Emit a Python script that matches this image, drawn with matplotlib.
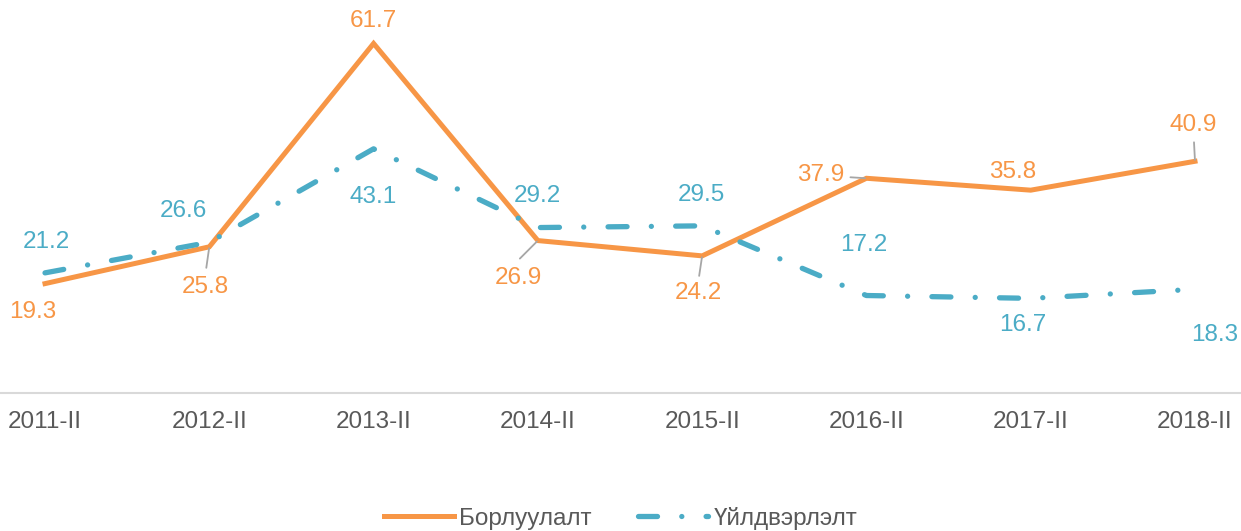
import matplotlib.pyplot as plt

plt.rcParams['font.family'] = ['Liberation Sans', 'DejaVu Sans']

# --------------------------------------------------
# Data
# --------------------------------------------------
periods = ["2011-II", "2012-II", "2013-II", "2014-II",
           "2015-II", "2016-II", "2017-II", "2018-II"]
sales = [19.3, 25.8, 61.7, 26.9, 24.2, 37.9, 35.8, 40.9]
production = [21.2, 26.6, 43.1, 29.2, 29.5, 17.2, 16.7, 18.3]

ORANGE = "#F79646"
TEAL = "#4BACC6"
GRAY = "#595959"
FS = 17.5

# label offsets in pixels from the point
sales_offsets = [(-12, -28), (-4, -40), (0, 22), (-19, -37),
                 (-4, -37), (-46, 3), (-18, 18), (-2, 36)]
# start of the gray leader line (pixels from the point), None = no leader
sales_leaders = [None, (-3, -21), None, (-18, -18),
                 (-3, -20), (-16, 1), None, (-1, 19)]
prod_offsets = [(1, 31), (-26, 31), (0, -48), (0, 32),
                (-1, 31), (-3, 51), (-8, -27), (20, -46)]

# --------------------------------------------------
# Figure
# --------------------------------------------------
fig = plt.figure(figsize=(12.41, 5.31), dpi=100)
ax = fig.add_axes([0, 0.26, 1, 0.736])

x = list(range(len(periods)))
ax.plot(x, sales, color=ORANGE, linewidth=3.6, solid_joinstyle="miter",
        label="Борлуулалт")
ax.plot(x, production, color=TEAL, linewidth=3.8,
        linestyle=(0, (3.6, 4.6, 0.01, 4.6)), dash_capstyle="round",
        label="Үйлдвэрлэлт")

for i, v in enumerate(sales):
    dx, dy = sales_offsets[i]
    ax.annotate(f"{v}", (i, v), xytext=(dx, dy), textcoords="offset pixels",
                ha="center", va="center", color=ORANGE, fontsize=FS)
    lead = sales_leaders[i]
    if lead is not None:
        ax.annotate("", (i, v), xytext=lead, textcoords="offset pixels",
                    arrowprops=dict(arrowstyle="-", color="#A6A6A6", lw=1.3,
                                    shrinkA=0, shrinkB=1))

for i, v in enumerate(production):
    dx, dy = prod_offsets[i]
    ax.annotate(f"{v}", (i, v), xytext=(dx, dy), textcoords="offset pixels",
                ha="center", va="center", color=TEAL, fontsize=FS)

ax.set_xlim(-0.274, 7.28)
ax.set_ylim(0, 69)
ax.set_xticks(x)
ax.set_xticklabels(periods, fontsize=FS, color=GRAY)
ax.tick_params(axis="x", length=0, pad=13)
ax.set_yticks([])
for side in ["top", "left", "right"]:
    ax.spines[side].set_visible(False)
ax.spines["bottom"].set_color("#D9D9D9")
ax.spines["bottom"].set_linewidth(1.5)

leg = fig.legend(loc="center", bbox_to_anchor=(0.5, 0.024), ncol=2, frameon=False,
                 fontsize=FS, handlelength=2.9, handletextpad=0.2, columnspacing=1.9)
for t in leg.get_texts():
    t.set_color(GRAY)

plt.savefig("out.png", dpi=100)
